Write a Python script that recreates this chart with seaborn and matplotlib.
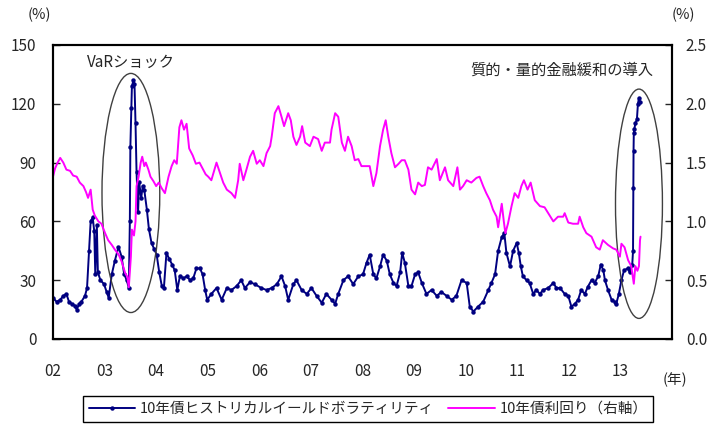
import numpy as np
import seaborn as sns
import matplotlib.pyplot as plt
from matplotlib.patches import Ellipse

# 10年債ヒストリカルボラティリティ (%, left axis)
vol_year = [2002.00, 2002.07, 2002.14, 2002.20, 2002.26, 2002.31, 2002.36, 2002.42, 2002.46, 2002.51,
            2002.55, 2002.62, 2002.66, 2002.70, 2002.73, 2002.77, 2002.80, 2002.82, 2002.85, 2002.87,
            2002.92, 2002.99, 2003.04, 2003.08, 2003.14, 2003.20, 2003.27, 2003.33, 2003.38, 2003.43,
            2003.47, 2003.49, 2003.50, 2003.52, 2003.53, 2003.56, 2003.58, 2003.60, 2003.62, 2003.65,
            2003.67, 2003.71, 2003.74, 2003.77, 2003.82, 2003.86, 2003.91, 2003.96, 2004.01, 2004.06,
            2004.11, 2004.15, 2004.20, 2004.25, 2004.31, 2004.36, 2004.41, 2004.46, 2004.53, 2004.59,
            2004.66, 2004.72, 2004.78, 2004.85, 2004.90, 2004.95, 2004.99, 2005.07, 2005.17, 2005.27,
            2005.37, 2005.46, 2005.56, 2005.65, 2005.72, 2005.82, 2005.91, 2006.04, 2006.14, 2006.24,
            2006.34, 2006.43, 2006.50, 2006.56, 2006.66, 2006.72, 2006.82, 2006.92, 2007.01, 2007.11,
            2007.21, 2007.30, 2007.40, 2007.47, 2007.53, 2007.63, 2007.72, 2007.82, 2007.92, 2008.01,
            2008.08, 2008.14, 2008.21, 2008.27, 2008.34, 2008.40, 2008.47, 2008.53, 2008.60, 2008.66,
            2008.73, 2008.77, 2008.82, 2008.89, 2008.95, 2009.02, 2009.08, 2009.15, 2009.24, 2009.34,
            2009.44, 2009.53, 2009.63, 2009.73, 2009.82, 2009.92, 2010.02, 2010.08, 2010.15, 2010.24,
            2010.34, 2010.44, 2010.50, 2010.57, 2010.63, 2010.70, 2010.75, 2010.79, 2010.86, 2010.92,
            2010.99, 2011.03, 2011.07, 2011.11, 2011.18, 2011.24, 2011.31, 2011.37, 2011.44, 2011.50,
            2011.60, 2011.70, 2011.76, 2011.83, 2011.92, 2011.99, 2012.05, 2012.12, 2012.18, 2012.24,
            2012.31, 2012.37, 2012.44, 2012.50, 2012.57, 2012.62, 2012.67, 2012.70, 2012.76, 2012.83,
            2012.89, 2012.92, 2012.97, 2013.02, 2013.07, 2013.14, 2013.18, 2013.23, 2013.245, 2013.25,
            2013.255, 2013.26, 2013.27, 2013.29, 2013.32, 2013.34, 2013.36, 2013.38]
vol_pct = [21, 19, 20, 22, 23, 19, 18, 17, 15, 18,
           19, 22, 26, 45, 60, 62, 55, 33, 58, 34,
           30, 28, 24, 21, 33, 40, 47, 42, 33, 30,
           26, 60, 98, 118, 129, 132, 130, 110, 85, 65,
           80, 72, 78, 76, 66, 56, 49, 46, 43, 34,
           27, 26, 44, 41, 38, 35, 25, 32, 31, 32,
           30, 31, 36, 36, 33, 25, 20, 23, 26, 20,
           26, 25, 27, 30, 26, 29, 28, 26, 25, 26,
           28, 32, 27, 20, 28, 30, 25, 23, 26, 22,
           18.5, 23, 20, 18, 23, 30, 32, 28, 32, 33,
           39, 43, 33, 31, 37, 43, 40, 33, 28.6, 27,
           34, 44, 39, 27, 27, 33, 34, 28.6, 23, 25,
           22, 24, 22, 20, 22, 30, 28.6, 16.5, 14, 16.5,
           19, 25, 28.6, 33, 45, 52, 54, 44, 37, 45,
           49, 44, 37, 32, 30, 28.6, 23, 25, 23, 25,
           26, 28.6, 26, 26, 23, 22, 16.5, 18, 20, 25,
           23, 26.7, 30, 28.6, 32, 38, 35, 30, 25, 20,
           19, 18, 23, 30, 35, 36, 34, 38, 45, 77,
           96, 105, 107, 110, 112, 120, 123, 121]

# 10年債利回り (%, right axis)
yld_year = [2002.00, 2002.04, 2002.09, 2002.14, 2002.20, 2002.26, 2002.33, 2002.39, 2002.46, 2002.52,
            2002.59, 2002.64, 2002.68, 2002.73, 2002.77, 2002.81, 2002.88, 2002.94, 2003.01, 2003.07,
            2003.14, 2003.20, 2003.27, 2003.33, 2003.40, 2003.44, 2003.47, 2003.51, 2003.53, 2003.57,
            2003.60, 2003.62, 2003.66, 2003.70, 2003.73, 2003.77, 2003.80, 2003.85, 2003.89, 2003.95,
            2004.00, 2004.05, 2004.11, 2004.17, 2004.24, 2004.30, 2004.35, 2004.40, 2004.45, 2004.49,
            2004.54, 2004.59, 2004.64, 2004.71, 2004.77, 2004.84, 2004.90, 2004.96, 2005.01, 2005.07,
            2005.17, 2005.24, 2005.30, 2005.37, 2005.46, 2005.53, 2005.59, 2005.62, 2005.69, 2005.75,
            2005.82, 2005.88, 2005.95, 2006.01, 2006.08, 2006.14, 2006.21, 2006.24, 2006.30, 2006.37,
            2006.43, 2006.48, 2006.56, 2006.61, 2006.66, 2006.72, 2006.79, 2006.83, 2006.89, 2006.98,
            2007.05, 2007.14, 2007.21, 2007.27, 2007.37, 2007.40, 2007.47, 2007.53, 2007.60, 2007.66,
            2007.72, 2007.79, 2007.85, 2007.92, 2007.98, 2008.08, 2008.14, 2008.21, 2008.27, 2008.34,
            2008.40, 2008.45, 2008.50, 2008.56, 2008.63, 2008.70, 2008.76, 2008.82, 2008.89, 2008.95,
            2009.02, 2009.08, 2009.15, 2009.21, 2009.27, 2009.34, 2009.44, 2009.50, 2009.60, 2009.66,
            2009.76, 2009.84, 2009.89, 2009.95, 2010.02, 2010.11, 2010.21, 2010.27, 2010.34, 2010.40,
            2010.47, 2010.53, 2010.60, 2010.63, 2010.70, 2010.74, 2010.77, 2010.82, 2010.89, 2010.95,
            2011.02, 2011.08, 2011.13, 2011.20, 2011.26, 2011.34, 2011.44, 2011.53, 2011.60, 2011.70,
            2011.79, 2011.89, 2011.92, 2011.99, 2012.08, 2012.18, 2012.21, 2012.28, 2012.34, 2012.44,
            2012.53, 2012.60, 2012.66, 2012.76, 2012.86, 2012.92, 2012.99, 2013.02, 2013.08, 2013.15,
            2013.21, 2013.26, 2013.29, 2013.33, 2013.36, 2013.38, 2013.39]
yld_pct = [1.38, 1.45, 1.50, 1.54, 1.50, 1.44, 1.43, 1.39, 1.38, 1.33,
           1.30, 1.25, 1.20, 1.27, 1.10, 1.05, 1.00, 0.98, 0.90, 0.84,
           0.80, 0.76, 0.72, 0.66, 0.56, 0.53, 0.44, 0.70, 0.93, 0.88,
           1.00, 1.30, 1.38, 1.50, 1.55, 1.47, 1.50, 1.44, 1.38, 1.34,
           1.30, 1.33, 1.28, 1.24, 1.38, 1.47, 1.52, 1.49, 1.80, 1.86,
           1.78, 1.83, 1.62, 1.56, 1.49, 1.50, 1.45, 1.40, 1.38, 1.35,
           1.50, 1.41, 1.33, 1.27, 1.24, 1.20, 1.35, 1.49, 1.35, 1.44,
           1.55, 1.60, 1.49, 1.52, 1.47, 1.58, 1.64, 1.72, 1.92, 1.98,
           1.89, 1.81, 1.92, 1.86, 1.72, 1.65, 1.72, 1.81, 1.67, 1.64,
           1.72, 1.70, 1.60, 1.67, 1.67, 1.78, 1.92, 1.89, 1.67, 1.60,
           1.72, 1.64, 1.52, 1.53, 1.47, 1.47, 1.47, 1.30, 1.41, 1.64,
           1.78, 1.86, 1.72, 1.58, 1.46, 1.49, 1.52, 1.52, 1.44, 1.27,
           1.23, 1.33, 1.30, 1.31, 1.46, 1.44, 1.53, 1.35, 1.46, 1.35,
           1.30, 1.46, 1.27, 1.30, 1.35, 1.33, 1.37, 1.38, 1.30, 1.24,
           1.18, 1.10, 1.04, 0.95, 1.15, 1.00, 0.90, 0.98, 1.13, 1.24,
           1.20, 1.30, 1.35, 1.27, 1.33, 1.18, 1.13, 1.12, 1.07, 1.00,
           1.04, 1.04, 1.07, 0.99, 0.98, 0.98, 1.04, 0.95, 0.90, 0.87,
           0.78, 0.76, 0.84, 0.80, 0.77, 0.76, 0.70, 0.81, 0.78, 0.67,
           0.62, 0.47, 0.62, 0.58, 0.62, 0.84, 0.87]

year_ticks = list(range(2002, 2015))
year_labels = ['02', '03', '04', '05', '06', '07', '08', '09', '10', '11', '12', '13', '']
left_ticks = [0, 30, 60, 90, 120, 150]
right_ticks = [0.0, 0.5, 1.0, 1.5, 2.0, 2.5]

sns.set_style('white')
plt.rcParams['font.family'] = ['Noto Sans CJK JP', 'DejaVu Sans']
plt.rcParams['xtick.direction'] = 'in'
plt.rcParams['ytick.direction'] = 'in'
plt.rcParams['axes.edgecolor'] = 'black'
plt.rcParams['axes.linewidth'] = 1.5

fig = plt.figure(figsize=(7.18, 4.33), dpi=100)
ax = fig.add_axes([0.0738, 0.2171, 0.8621, 0.679])
ax2 = ax.twinx()

sns.lineplot(x=vol_year, y=vol_pct, ax=ax, color='#000080', linewidth=1.4,
             marker='o', markersize=3.2, markeredgewidth=0, estimator=None,
             label='10年債ヒストリカルイールドボラティリティ')
sns.lineplot(x=yld_year, y=yld_pct, ax=ax2, color='#FF00FF', linewidth=1.4,
             estimator=None, label='10年債利回り（右軸）')

ax.set_xlim(2002, 2014)
ax.set_ylim(0, 150)
ax2.set_ylim(0, 2.5)
ax.set_xticks(year_ticks)
ax.set_xticklabels(year_labels)
ax.set_yticks(left_ticks)
ax2.set_yticks(right_ticks)
ax2.set_yticklabels([f'{v:.1f}' for v in right_ticks])
ax.set_xlabel('')
ax.set_ylabel('')
ax2.set_ylabel('')

ax.tick_params(axis='x', length=5, width=1, pad=17, labelsize=11)
ax.tick_params(axis='y', length=5, width=1, pad=12, labelsize=11)
ax2.tick_params(axis='y', length=5, width=1, pad=10, labelsize=11)

# ellipses and notes
ax.add_patch(Ellipse((2003.51, 74.5), 1.12, 122, fill=False, edgecolor='#404040', linewidth=1, zorder=5))
ax.add_patch(Ellipse((2013.36, 69), 0.91, 117, fill=False, edgecolor='#404040', linewidth=1, zorder=5))
ax.text(2003.51, 141.3, 'VaRショック', ha='center', va='center', fontsize=11)
ax.text(2011.86, 137.2, '質的・量的金融緩和の導入', ha='center', va='center', fontsize=11)

fig.text(39 / 718, 1 - 15 / 433, '(%)', ha='center', va='center', fontsize=10.5)
fig.text(683 / 718, 1 - 15 / 433, '(%)', ha='center', va='center', fontsize=10.5)
fig.text(675 / 718, 1 - 380 / 433, '(年)', ha='center', va='center', fontsize=10.5)

h1, l1 = ax.get_legend_handles_labels()
h2, l2 = ax2.get_legend_handles_labels()
ax.get_legend().remove()
ax2.get_legend().remove()
leg = fig.legend(h1 + h2, l1 + l2, loc='center', bbox_to_anchor=(0.5125, 0.0554), ncol=2,
                 frameon=True, fancybox=False, edgecolor='black', framealpha=1, fontsize=10.5,
                 handlelength=3.2, columnspacing=1.0, handletextpad=0.3, borderpad=0.4)
leg.get_frame().set_linewidth(1)

fig.savefig('out.png', dpi=100)
